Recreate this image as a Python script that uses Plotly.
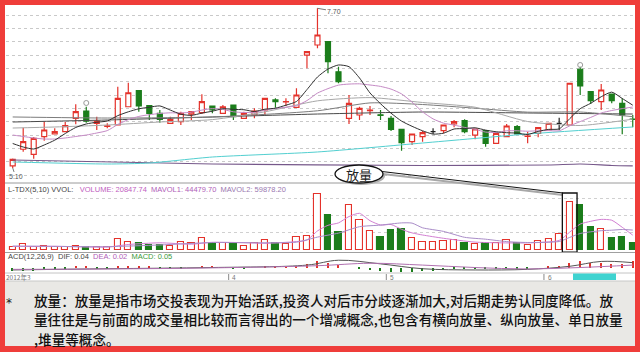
import plotly.graph_objects as go

# ---------------- data ----------------
opens = [5.132, 5.404, 5.322, 5.609, 5.653, 5.690, 5.908, 6.027, 5.827, 5.775,
         5.799, 6.097, 6.358, 6.114, 5.990, 5.827, 5.853, 5.978, 6.000, 6.109,
         5.990, 6.125, 5.908, 5.962, 6.044, 6.207, 6.174, 6.088, 6.939, 7.102,
         7.156, 6.667, 5.908, 5.962, 6.035, 5.966, 5.908, 5.729, 5.527, 5.609,
         5.690, 5.707, 5.816, 5.869, 5.636, 5.707, 5.501, 5.609, 5.772, 5.612,
         5.664, 5.718, 5.827, 5.799, 6.707, 6.342, 6.179, 6.304, 6.153, 5.897]
highs = [5.254, 5.755, 5.604, 5.853, 5.746, 5.853, 6.137, 6.097, 5.934, 5.827,
         6.423, 6.488, 6.361, 6.117, 6.044, 5.934, 6.016, 6.019, 6.299, 6.112,
         6.125, 6.128, 6.016, 6.071, 6.239, 6.234, 6.234, 6.397, 6.996, 7.700,
         7.159, 6.749, 6.288, 6.097, 6.109, 6.044, 5.946, 5.734, 5.656, 5.702,
         5.746, 5.803, 5.881, 5.892, 5.737, 5.710, 5.669, 5.816, 5.799, 5.690,
         5.759, 5.832, 5.918, 6.483, 6.749, 6.345, 6.467, 6.308, 6.234, 5.962]
lows = [5.100, 5.364, 5.250, 5.544, 5.645, 5.685, 5.811, 5.837, 5.718, 5.746,
        5.791, 6.092, 6.016, 5.881, 5.837, 5.824, 5.799, 5.881, 5.978, 5.990,
        5.987, 5.881, 5.905, 5.908, 5.962, 6.081, 6.109, 6.084, 6.723, 7.049,
        6.641, 6.479, 5.816, 5.881, 5.962, 5.881, 5.702, 5.381, 5.474, 5.527,
        5.653, 5.664, 5.762, 5.664, 5.566, 5.446, 5.498, 5.604, 5.650, 5.501,
        5.599, 5.715, 5.718, 5.796, 6.288, 6.141, 6.044, 6.153, 5.648, 5.762]
closes = [5.241, 5.527, 5.583, 5.718, 5.690, 5.788, 6.016, 5.864, 5.864, 5.786,
          6.234, 6.325, 6.109, 5.990, 5.892, 5.892, 5.990, 6.016, 6.179, 6.044,
          6.097, 5.934, 5.990, 6.027, 6.234, 6.179, 6.182, 6.288, 6.993, 7.265,
          6.830, 6.505, 6.153, 6.071, 6.044, 5.957, 5.729, 5.511, 5.653, 5.674,
          5.690, 5.799, 5.853, 5.690, 5.734, 5.501, 5.664, 5.783, 5.653, 5.620,
          5.755, 5.827, 5.827, 6.479, 6.435, 6.195, 6.369, 6.195, 5.962, 5.889]
# R = up (red hollow), G = down (green), K = doji (black)
kinds = "RRRRRRRGRR" "RRGGGRRRRG" "RGRRRGRRRR" "GGRRRGGGRR" "KRRGRGRRGR" "RRKRGGRGGG"

volumes = [8100, 17100, 9900, 12900, 8100, 8100, 11100, 8100, 8100, 8100,
           33000, 24900, 20100, 15000, 15000, 12000, 23100, 21900, 36900, 21900,
           20100, 18000, 12000, 20100, 30000, 20100, 18000, 38100, 42000, 168000,
           105000, 53100, 135000, 90000, 57000, 39900, 60000, 63000, 36900, 24900,
           23100, 27000, 30000, 20100, 18000, 21900, 20100, 30000, 20100, 15000,
           27900, 33900, 47100, 144900, 135000, 69900, 62100, 35100, 38100, 20847.74]

ma5 = [5.498, 5.441, 5.408, 5.474, 5.552, 5.661, 5.759, 5.816, 5.845, 5.864,
       5.952, 6.014, 6.063, 6.089, 6.110, 6.042, 5.975, 5.956, 5.993, 6.024,
       6.065, 6.053, 6.048, 6.019, 6.057, 6.073, 6.122, 6.182, 6.376, 6.581,
       6.711, 6.777, 6.749, 6.565, 6.321, 6.146, 5.992, 5.863, 5.778, 5.705,
       5.651, 5.666, 5.734, 5.741, 5.754, 5.716, 5.689, 5.674, 5.667, 5.645,
       5.695, 5.728, 5.736, 5.902, 6.065, 6.153, 6.260, 6.335, 6.231, 6.122]
ma10 = [5.636, 5.612, 5.588, 5.571, 5.571, 5.588, 5.612, 5.636, 5.669, 5.708,
        5.808, 5.887, 5.939, 5.967, 5.987, 5.998, 5.995, 6.009, 6.042, 6.066,
        6.053, 6.014, 6.003, 6.006, 6.040, 6.070, 6.088, 6.115, 6.197, 6.319,
        6.392, 6.449, 6.466, 6.470, 6.451, 6.428, 6.384, 6.306, 6.172, 6.013,
        5.899, 5.829, 5.798, 5.760, 5.729, 5.684, 5.677, 5.705, 5.705, 5.698,
        5.705, 5.708, 5.705, 5.785, 5.855, 5.923, 5.995, 6.035, 6.066, 6.092]
ma20_x = [0, 4, 9, 14, 19, 24, 29, 34, 39, 44, 49, 54, 59]
ma20_y = [5.750, 5.767, 5.799, 5.848, 5.887, 6.014, 6.193, 6.246, 6.166, 6.089, 5.856, 5.791, 5.895]
ma30_x = [0, 9, 19, 29, 34, 39, 44, 49, 54, 59]
ma30_y = [5.930, 5.913, 5.930, 6.031, 6.159, 6.133, 6.073, 6.009, 6.011, 5.935]
ma60_x = [0, 9, 19, 29, 39, 49, 59]
ma60_y = [5.848, 5.881, 5.930, 5.978, 6.011, 5.995, 5.978]
ma120_x = [0, 9, 13, 19, 29, 39, 49, 59]
ma120_y = [5.197, 5.164, 5.180, 5.278, 5.360, 5.506, 5.653, 5.767]
ma250_x = [0, 19, 39, 51, 54, 57, 59]
ma250_y = [5.229, 5.164, 5.140, 5.148, 5.164, 5.140, 5.132]

mavol1_x = [0, 2, 4, 9, 11, 14, 17, 19, 22, 24, 27, 28, 29, 30, 31, 32, 33, 34, 35, 36, 37,
            38, 39, 41, 44, 49, 52, 53, 54, 55, 56, 57, 58, 59]
mavol1_y = [10500, 10800, 11200, 8700, 16500, 21600, 17400, 23100, 21900, 20100, 25200, 29700,
            57300, 74100, 81300, 100500, 110100, 87900, 75000, 76500, 62100, 51300, 45000,
            35100, 23700, 21300, 28800, 53700, 77700, 86100, 91800, 89400, 68100, 44479.70]
mavol2_x = [0, 4, 9, 14, 19, 24, 27, 29, 31, 33, 35, 37, 38, 39, 41, 43, 45, 47, 49, 52, 53,
            54, 55, 56, 57, 58, 59]
mavol2_y = [12000, 10800, 9960, 15150, 22380, 21600, 23520, 38700, 50700, 69900, 74700, 81300,
            80700, 66600, 55800, 38100, 32400, 25200, 22500, 25500, 37800, 49500, 54600,
            57900, 59400, 61500, 59878.20]

macd_hist = [-0.03, -0.03, -0.03, -0.01, -0.01, -0.005, 0.005, 0.005, -0.005, -0.005,
             0.01, 0.015, 0.01, 0.005, -0.005, -0.01, -0.005, 0.0, 0.005, 0.005,
             0.0, -0.005, -0.005, 0.0, 0.005, 0.005, 0.005, 0.01, 0.03, 0.05,
             0.04, 0.02, 0.0, -0.01, -0.02, -0.03, -0.035, -0.04, -0.035, -0.03,
             -0.025, -0.02, -0.015, -0.01, -0.01, -0.015, -0.01, -0.005, -0.005, -0.005,
             0.0, 0.005, 0.01, 0.04, 0.05, 0.04, 0.04, 0.03, 0.03, 0.05]
dif_x = [0, 9, 19, 28, 31, 35, 39, 44, 49, 53, 56, 59]
dif_y = [-0.02, -0.01, 0.0, 0.02, 0.06, 0.03, -0.01, -0.02, -0.015, 0.01, 0.05, 0.04]
dea_x = [0, 9, 19, 29, 34, 39, 44, 49, 54, 59]
dea_y = [-0.015, -0.012, -0.003, 0.015, 0.035, 0.02, 0.0, -0.012, 0.0, 0.02]

signal_x = [7, 54]
signal_y = [6.158, 6.777]

date_tick_x = [21, 36, 51]
date_tick_labels = ["4", "5", "6"]

body_lines = [
    "放量：放量是指市场交投表现为开始活跃,投资人对后市分歧逐渐加大,对后期走势认同度降低。放",
    "量往往是与前面的成交量相比较而言得出的一个增减概念,也包含有横向放量、纵向放量、单日放量",
    ",堆量等概念。",
]

# ---------------- styling ----------------
W, H = 640, 352
RED = "#e4322b"
GREEN = "#1b7d1b"
BORDER = "#ef3d3a"


def px(x):
    return x / W


def py(y):
    return 1 - y / H


idx = list(range(len(opens)))
fig = go.Figure()


def candle_trace(sel, line_col, fill_col):
    return go.Candlestick(
        x=[idx[i] for i in sel], open=[opens[i] for i in sel], high=[highs[i] for i in sel],
        low=[lows[i] for i in sel], close=[closes[i] for i in sel],
        increasing=dict(line=dict(color=line_col, width=1.2), fillcolor=fill_col),
        decreasing=dict(line=dict(color=line_col, width=1.2), fillcolor=fill_col),
        whiskerwidth=0, hoverinfo="skip", xaxis="x", yaxis="y")


# moving average lines (under candles)
line_specs = [
    (ma250_x, ma250_y, "#76588a", 1.2),
    (ma120_x, ma120_y, "#52cfd0", 1.0),
    (ma60_x, ma60_y, "#4a4a4a", 1.0),
    (ma30_x, ma30_y, "#7c7c7c", 1.0),
    (ma20_x, ma20_y, "#a8a8a8", 1.0),
    (idx, ma10, "#c58ac5", 1.0),
    (idx, ma5, "#303030", 1.0),
]
for xs, ys, col, w in line_specs:
    fig.add_trace(go.Scatter(x=xs, y=ys, mode="lines", line=dict(color=col, width=w, shape="spline", smoothing=0.6),
                             hoverinfo="skip", xaxis="x", yaxis="y"))

fig.add_trace(candle_trace([i for i, k in enumerate(kinds) if k == "R"], RED, "#ffffff"))
fig.add_trace(candle_trace([i for i, k in enumerate(kinds) if k == "G"], GREEN, GREEN))
fig.add_trace(candle_trace([i for i, k in enumerate(kinds) if k == "K"], "#222222", "#ffffff"))

fig.add_trace(go.Scatter(x=signal_x, y=signal_y, mode="markers",
                         marker=dict(symbol="circle-open", size=5, color="#9a9a9a", line=dict(width=1)),
                         hoverinfo="skip", xaxis="x", yaxis="y"))

# volume
vol_is_green = [k == "G" for k in kinds]
fig.add_trace(go.Bar(x=idx, y=volumes, width=0.6,
                     marker=dict(color=[GREEN if g else "#ffffff" for g in vol_is_green],
                                 line=dict(color=[GREEN if g else RED for g in vol_is_green], width=1.1)),
                     hoverinfo="skip", xaxis="x", yaxis="y2"))
fig.add_trace(go.Scatter(x=mavol1_x, y=mavol1_y, mode="lines",
                         line=dict(color="#d27fd2", width=1, shape="spline", smoothing=0.6),
                         hoverinfo="skip", xaxis="x", yaxis="y2"))
fig.add_trace(go.Scatter(x=mavol2_x, y=mavol2_y, mode="lines",
                         line=dict(color="#a98cc8", width=1, shape="spline", smoothing=0.6),
                         hoverinfo="skip", xaxis="x", yaxis="y2"))

# MACD
fig.add_trace(go.Bar(x=idx, y=macd_hist, width=0.14,
                     marker=dict(color=[RED if v >= 0 else GREEN for v in macd_hist], line=dict(width=0)),
                     hoverinfo="skip", xaxis="x", yaxis="y3"))
fig.add_trace(go.Scatter(x=dif_x, y=dif_y, mode="lines", line=dict(color="#555555", width=1, shape="spline"),
                         hoverinfo="skip", xaxis="x", yaxis="y3"))
fig.add_trace(go.Scatter(x=dea_x, y=dea_y, mode="lines", line=dict(color="#b070b0", width=1, shape="spline"),
                         hoverinfo="skip", xaxis="x", yaxis="y3"))

shapes = []
# text area background
shapes.append(dict(type="rect", xref="paper", yref="paper", x0=0, x1=1, y0=0, y1=py(281),
                   fillcolor="#e9e8e5", line=dict(width=0), layer="below"))
# panel separators
for yy, col in [(183, "#9a9a9a"), (252.5, "#a0a0a0"), (273, "#c4c4c4"), (281, "#c8c8c8")]:
    shapes.append(dict(type="line", xref="paper", yref="paper", x0=0, x1=1, y0=py(yy), y1=py(yy),
                       line=dict(color=col, width=1), layer="below"))
# date strip tick marks
for tx in date_tick_x:
    shapes.append(dict(type="line", xref="x", yref="paper", x0=tx - 0.45, x1=tx - 0.45,
                       y0=py(274), y1=py(280), line=dict(color="#8a8a8a", width=1)))
shapes.append(dict(type="rect", xref="paper", yref="paper", x0=px(573), x1=px(616), y0=py(280), y1=py(273.5),
                   fillcolor="#3fd3d0", line=dict(width=0)))
# callout
shapes.append(dict(type="line", xref="paper", yref="paper", x0=px(383), y0=py(174), x1=px(563), y1=py(195),
                   line=dict(color="#a8a8a8", width=2)))
shapes.append(dict(type="line", xref="paper", yref="paper", x0=px(382), y0=py(171.5), x1=px(563), y1=py(193),
                   line=dict(color="#111111", width=1)))
shapes.append(dict(type="circle", xref="paper", yref="paper", x0=px(337), x1=px(385), y0=py(185), y1=py(167),
                   fillcolor="#b0b0b0", line=dict(width=0)))
shapes.append(dict(type="circle", xref="paper", yref="paper", x0=px(335), x1=px(383), y0=py(183), y1=py(165),
                   fillcolor="#ffffff", line=dict(color="#111111", width=1.3)))
shapes.append(dict(type="rect", xref="x", yref="y2", x0=53 - 0.7, x1=53 + 0.7, y0=-6500, y1=171000,
                   line=dict(color="#111111", width=1.3)))
# red frame
for x0, x1, y0, y1 in [(0, 5, 0, 352), (635, 640, 0, 352), (0, 640, 0, 5), (0, 640, 346, 352)]:
    shapes.append(dict(type="rect", xref="paper", yref="paper", x0=px(x0), x1=px(x1), y0=py(y1), y1=py(y0),
                       fillcolor=BORDER, line=dict(width=0), layer="above"))

SMALL = dict(family="Liberation Sans", size=7, color="#555555")
ann = []
ann.append(dict(xref="x", yref="y", x=29, y=7.70, text="7.70", showarrow=True, arrowhead=0, arrowwidth=0.8,
                arrowcolor="#555555", ax=17, ay=3, font=SMALL))
ann.append(dict(xref="x", yref="y", x=0, y=5.10, text="5.10", showarrow=True, arrowhead=0, arrowwidth=0.8,
                arrowcolor="#555555", ax=3, ay=9, font=SMALL))
vol_header = ('<span style="color:#444">L-TDX(5,10) VVOL:</span>   '
              '<span style="color:#c060c0">VOLUME: 20847.74</span>  '
              '<span style="color:#b060b8">MAVOL1: 44479.70</span>  '
              '<span style="color:#9a78b0">MAVOL2: 59878.20</span>')
ann.append(dict(xref="paper", yref="paper", x=px(6), y=py(189.5), xanchor="left", yanchor="middle",
                text=vol_header, showarrow=False, font=dict(family="Liberation Sans", size=7.5)))
macd_header = ('<span style="color:#444">ACD(12,26,9)  DIF: 0.04</span>  '
               '<span style="color:#b060b8">DEA: 0.02</span>  '
               '<span style="color:#3a9a3a">MACD: 0.05</span>')
ann.append(dict(xref="paper", yref="paper", x=px(6), y=py(256.5), xanchor="left", yanchor="middle",
                text=macd_header, showarrow=False, font=dict(family="Liberation Sans", size=7.5)))
ann.append(dict(xref="paper", yref="paper", x=px(4), y=py(277), xanchor="left", yanchor="middle",
                text="2012年3", showarrow=False, font=dict(family="Noto Sans CJK SC", size=6.5, color="#777777")))
for tx, tl in zip(date_tick_x, date_tick_labels):
    ann.append(dict(xref="x", yref="paper", x=tx - 0.3, y=py(277), xanchor="left", yanchor="middle",
                    text=tl, showarrow=False, font=dict(family="Liberation Sans", size=6.5, color="#777777")))
ann.append(dict(xref="paper", yref="paper", x=px(359), y=py(174.5), xanchor="center", yanchor="middle",
                text="放量", showarrow=False, font=dict(family="Noto Sans CJK SC", size=13, color="#222222")))
ann.append(dict(xref="paper", yref="paper", x=px(9), y=py(303), xanchor="center", yanchor="middle",
                text="*", showarrow=False, font=dict(family="DejaVu Sans", size=12, color="#222222")))
for line, yy in zip(body_lines, [299.5, 319.3, 339.0]):
    ann.append(dict(xref="paper", yref="paper", x=px(32), y=py(yy), xanchor="left", yanchor="middle",
                    align="left", text=line, showarrow=False,
                    font=dict(family="Noto Sans CJK SC", size=13.6, color="#111111", weight=500)))

hidden = dict(showticklabels=False, ticks="", zeroline=False, showline=False)
fig.update_layout(
    width=W, height=H, autosize=False, margin=dict(l=0, r=0, t=0, b=0),
    paper_bgcolor="#ffffff", plot_bgcolor="rgba(0,0,0,0)", showlegend=False,
    boxgap=0.32, bargap=0,
    xaxis=dict(domain=[0, 1], range=[-1.208, 59.69], showgrid=False, rangeslider=dict(visible=False),
               anchor="y3", **hidden),
    yaxis=dict(domain=[py(182), py(5)], range=[4.8710, 7.7538], tickmode="linear", tick0=4.985, dtick=0.21716,
               showgrid=True, gridcolor="#c9c9c9", griddash="dot", gridwidth=1, anchor="x", **hidden),
    yaxis2=dict(domain=[py(252), py(185)], range=[-6000, 195000], tickmode="array",
                tickvals=[54000, 105000, 156000], showgrid=True, gridcolor="#d0d0d0", griddash="dot",
                anchor="x", **hidden),
    yaxis3=dict(domain=[py(273), py(259)], range=[-0.045, 0.07], showgrid=False, anchor="x", **hidden),
    shapes=shapes, annotations=ann,
)

fig.write_html("out.html")
